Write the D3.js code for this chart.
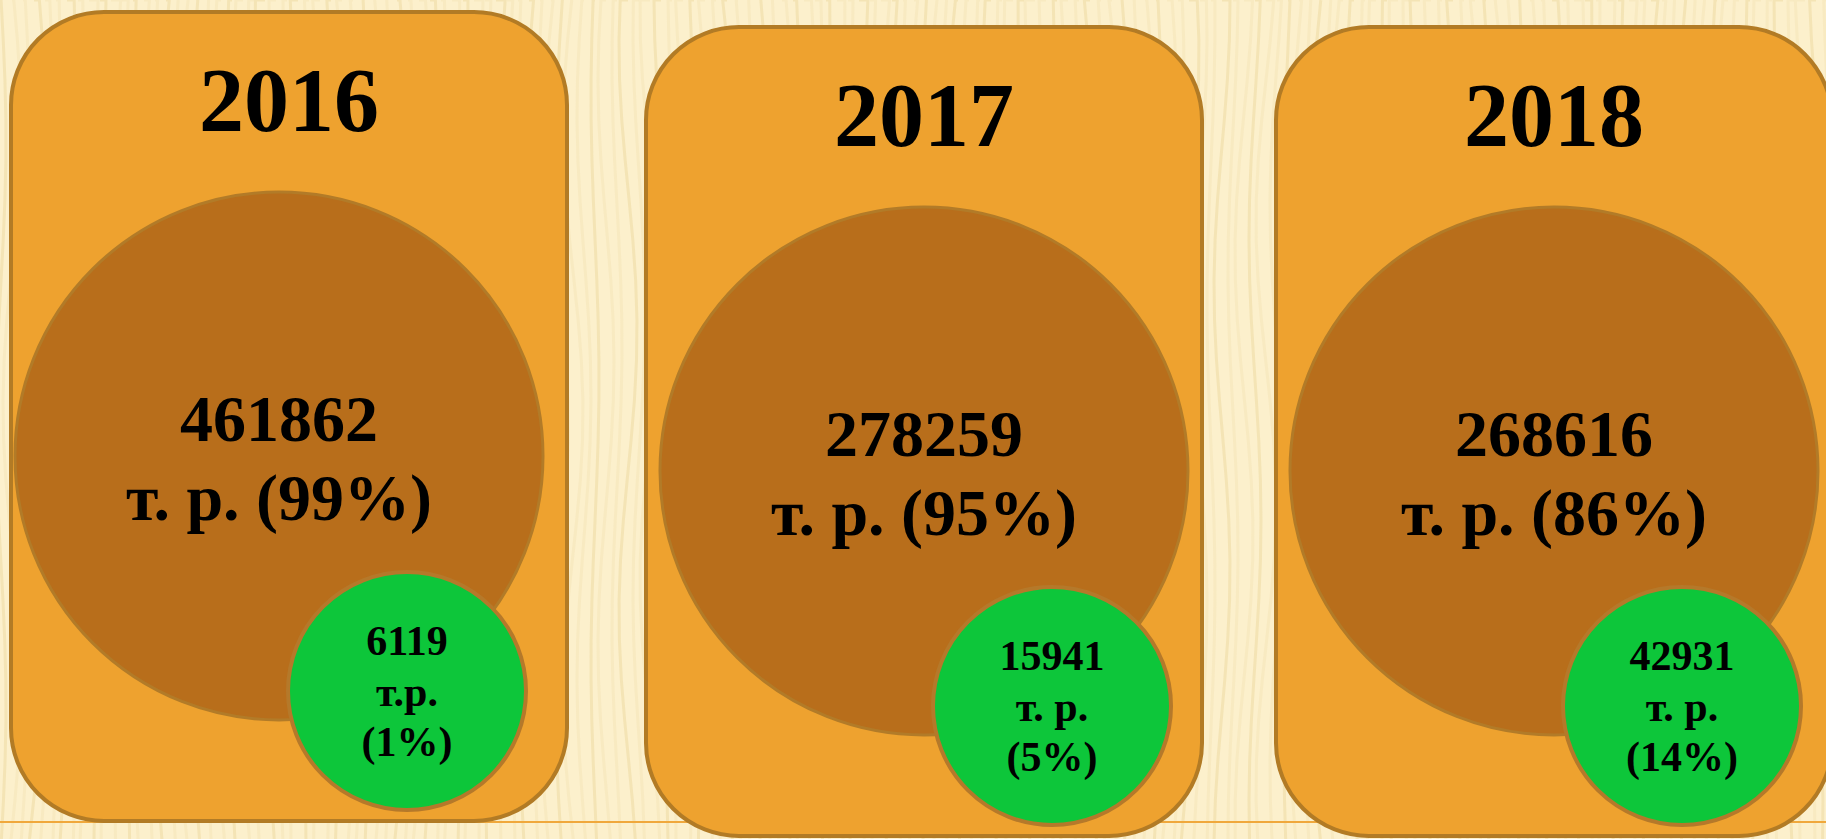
<!DOCTYPE html>
<html>
<head>
<meta charset="utf-8">
<script src="https://cdn.jsdelivr.net/npm/d3@7"></script>
<style>
  html, body { margin: 0; padding: 0; overflow: hidden; background: #fcefc9; }
  #chart { width: 1826px; height: 839px; }
  text { font-family: "Liberation Serif", "Times New Roman", serif; font-weight: bold; fill: #000; }
</style>
</head>
<body>
<div id="chart"></div>
<script>
// DATA
const years = ["2016", "2017", "2018"];
const mainValues = [461862, 278259, 268616];
const mainShares = [99, 95, 86];
const otherValues = [6119, 15941, 42931];
const otherShares = [1, 5, 14];
const otherUnits = ["т.р.", "т. р.", "т. р."];
const mainUnit = "т. р.";

const W = 1826, H = 839;

const svg = d3.select("#chart").append("svg")
    .attr("width", W)
    .attr("height", H);

// background with soft vertical stripes
svg.append("rect").attr("width", W).attr("height", H).attr("fill", "#fcf0cc");
const stripes = svg.append("g").attr("class", "stripes");
for (let x = -10; x < W + 20; x += 11) {
    const amp = 4 + (x % 7);
    const path = d3.path();
    path.moveTo(x, 0);
    for (let y = 0; y <= H + 40; y += 40) {
        path.lineTo(x + amp * Math.sin(y / 90 + x / 60), y);
    }
    stripes.append("path")
        .attr("d", path.toString())
        .attr("fill", "none")
        .attr("stroke", (x / 11) % 3 < 1 ? "#ecd49a" : "#f3e2b4")
        .attr("stroke-width", 3)
        .attr("opacity", 0.45);
}

// thin orange rule behind the panels
svg.append("line")
    .attr("x1", 0).attr("x2", W)
    .attr("y1", 822).attr("y2", 822)
    .attr("stroke", "#f0a83c")
    .attr("stroke-width", 2);

// SCALES
const panelW = 556, panelH = 809;
const x = d3.scaleOrdinal().domain(years).range([11, 646, 1276]);

// first panel sits a bit higher than the others
const panelTop = d3.scaleOrdinal().domain(years).range([12, 27, 27]);
const bigDx = d3.scaleOrdinal().domain(years).range([-10, 0, 0]);

const rows = years.map((y, i) => ({
    year: y,
    main: mainValues[i],
    mainShare: mainShares[i],
    other: otherValues[i],
    otherShare: otherShares[i],
    otherUnit: otherUnits[i]
}));

const panels = svg.selectAll(".panel")
    .data(rows)
    .enter()
    .append("g")
    .attr("class", "panel")
    .attr("transform", d => "translate(" + x(d.year) + "," + panelTop(d.year) + ")");

panels.append("rect")
    .attr("x", 0).attr("y", 0)
    .attr("width", panelW).attr("height", panelH)
    .attr("rx", 93).attr("ry", 93)
    .attr("fill", "#eea22f")
    .attr("stroke", "#b27b25")
    .attr("stroke-width", 4);

panels.append("text")
    .attr("x", panelW / 2)
    .attr("y", 119)
    .attr("text-anchor", "middle")
    .style("font-size", "90px")
    .text(d => d.year);

// big circle
const bigR = 264, bigCy = 444;
panels.append("circle")
    .attr("cx", d => panelW / 2 + bigDx(d.year))
    .attr("cy", bigCy)
    .attr("r", bigR)
    .attr("fill", "#b86e1b")
    .attr("stroke", "#b27b28")
    .attr("stroke-width", 3);

panels.append("text")
    .attr("x", d => panelW / 2 + bigDx(d.year))
    .attr("y", bigCy - 15)
    .attr("text-anchor", "middle")
    .style("font-size", "66px")
    .text(d => d.main);

panels.append("text")
    .attr("x", d => panelW / 2 + bigDx(d.year))
    .attr("y", bigCy + 64)
    .attr("text-anchor", "middle")
    .style("font-size", "66px")
    .text(d => mainUnit + " (" + d.mainShare + "%)");

// small green circle
const smallR = 119, smallCx = 406, smallCy = 679;
panels.append("circle")
    .attr("cx", d => smallCx + bigDx(d.year))
    .attr("cy", smallCy)
    .attr("r", smallR)
    .attr("fill", "#0dc63a")
    .attr("stroke", "#b5792a")
    .attr("stroke-width", 4);

const smallLines = d => [String(d.other), d.otherUnit, "(" + d.otherShare + "%)"];
panels.each(function (d) {
    d3.select(this).selectAll(".small-label")
        .data(smallLines(d))
        .enter()
        .append("text")
        .attr("class", "small-label")
        .attr("x", smallCx + bigDx(d.year))
        .attr("y", (t, j) => smallCy - 36 + j * 50.5)
        .attr("text-anchor", "middle")
        .style("font-size", "42px")
        .text(t => t);
});
</script>
</body>
</html>
